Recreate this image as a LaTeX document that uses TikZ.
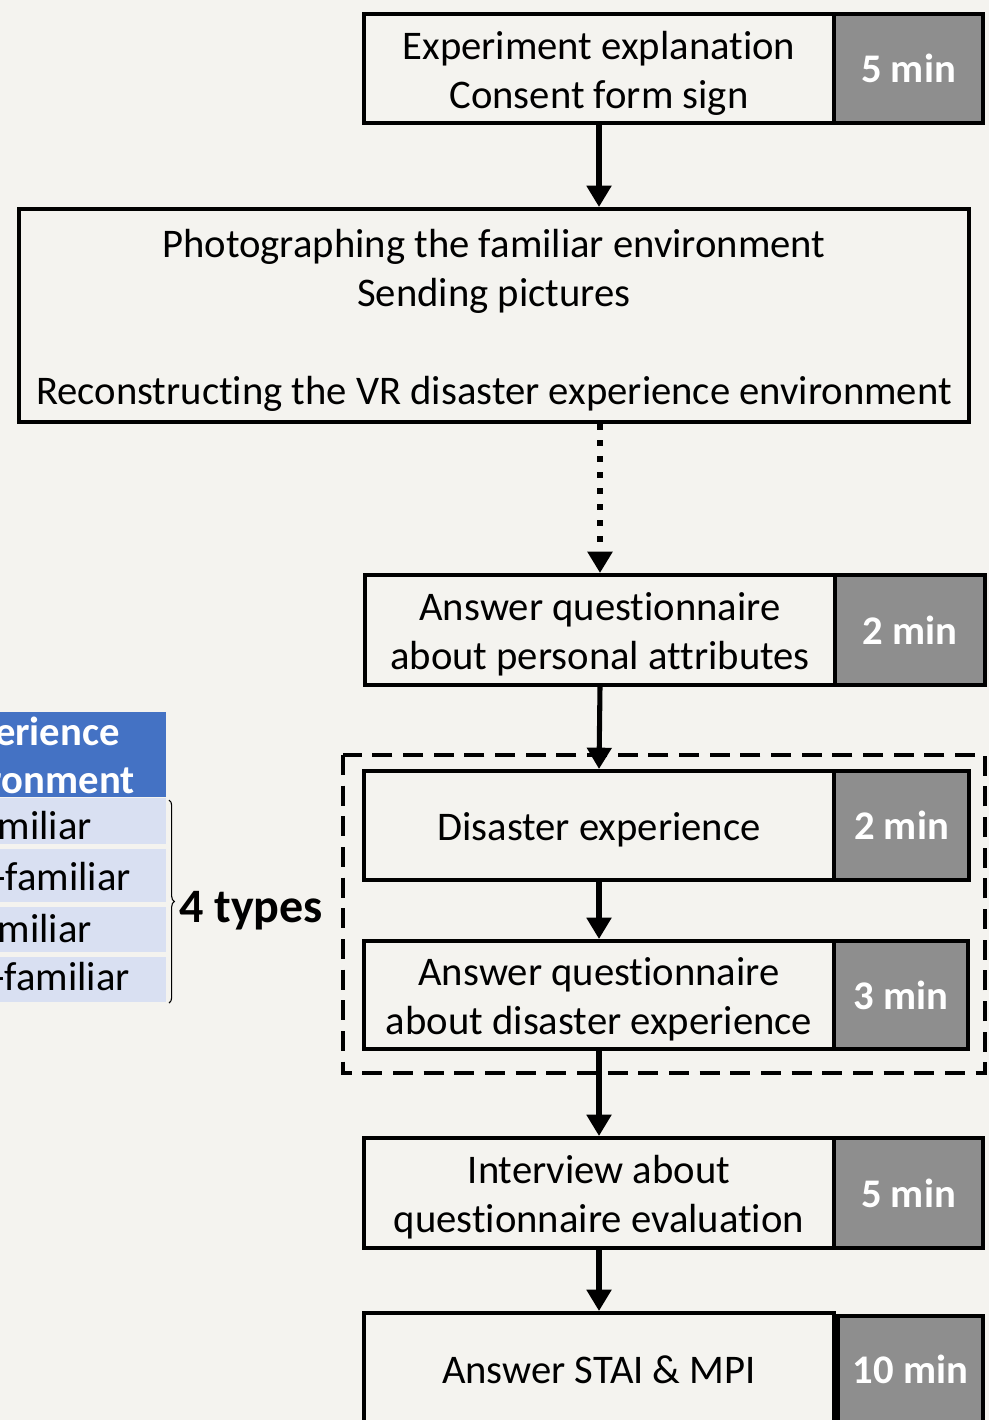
\documentclass[tikz,border=0pt]{standalone}
\usepackage{fontspec}
\setmainfont{Carlito}[Ligatures=NoCommon]
\usetikzlibrary{arrows.meta,decorations.pathreplacing}
\definecolor{bgc}{HTML}{F4F3EF}
\definecolor{tgray}{HTML}{8E8E8E}
\definecolor{hblue}{HTML}{4472C4}
\definecolor{rblue}{HTML}{D9E0F2}
\newcommand\tstr{\rule[-5.5pt]{0pt}{34pt}}
\tikzset{
  mainbox/.style={draw, line width=3pt, fill=bgc, align=center, inner sep=0pt,
    minimum width=352.5pt, font=\fontsize{30.5}{36.6}\selectfont},
  timebox/.style={draw, line width=3pt, fill=tgray, text=white, inner sep=0pt,
    font=\bfseries\fontsize{30.5}{36.6}\selectfont},
  arr/.style={line width=3.8pt, -{Triangle[width=18pt,length=16pt]}},
  dotarr/.style={line width=4.5pt, dash pattern=on 4.5pt off 7.5pt, -{Triangle[width=18pt,length=16pt]}},
  frame/.style={line width=3pt, dash pattern=on 15pt off 8pt},
  tabtxt/.style={anchor=base east, inner sep=0pt, font=\fontsize{30.5}{36.6}\selectfont},
  tabhead/.style={tabtxt, text=white, font=\bfseries\fontsize{30.5}{36.6}\selectfont}
}
\begin{document}
\begin{tikzpicture}[x=0.75pt,y=-0.75pt]
\useasboundingbox (0,0) rectangle (989,1420);
\clip (0,0) rectangle (989,1420);
\fill[bgc] (0,0) rectangle (989,1420);

% left table
\fill[hblue] (-20,712) rectangle (166,797);
\fill[rblue] (-20,798) rectangle (166,844);
\fill[rblue] (-20,849) rectangle (166,902);
\fill[rblue] (-20,907) rectangle (166,952);
\fill[rblue] (-20,957) rectangle (166,1002);
\node[tabhead] (h1) at (120,745) {erience};
\node[tabhead] (h2) at (135,793) {ronment};
\node[tabtxt] (r1) at (92,839) {miliar};
\node[tabtxt] (r2) at (131,890) {-familiar};
\node[tabtxt] (r3) at (92,942) {miliar};
\node[tabtxt] (r4) at (130,990) {-familiar};
\draw[line width=0.8pt, decorate, decoration={brace, amplitude=4pt}]
  (169,800) -- (169,1003);
\node[anchor=west, inner sep=0pt, font=\bfseries\fontsize{36}{40}\selectfont] (types) at (179,911) {4 types};

% dashed frame
\draw[frame] (343,755) rectangle (985,1073);

% boxes
\node[mainbox, minimum height=81.75pt] (m1) at (599,68.5) {\tstr Experiment explanation\\\tstr Consent form sign};
\node[timebox, minimum width=111.75pt, minimum height=81.75pt] (t1) at (908.5,68.5) {5 min};

\node[draw, line width=3pt, fill=bgc, align=center, inner sep=0pt,
  minimum width=712.5pt, minimum height=159.75pt, font=\fontsize{30.5}{36.6}\selectfont] (m2) at (494,315.5)
  {\tstr Photographing the familiar environment\\\tstr Sending pictures\\[36.6pt]\tstr Reconstructing the VR disaster experience environment};

\node[mainbox, minimum height=82.5pt] (m3) at (600,630) {\tstr Answer questionnaire\\\tstr about personal attributes};
\node[timebox, minimum width=112.5pt, minimum height=82.5pt] (t3) at (910,630) {2 min};

\node[mainbox, minimum height=81.75pt] (m4) at (599,825.5) {\tstr Disaster experience};
\node[timebox, minimum width=101.25pt, minimum height=81.75pt] (t4) at (901.5,825.5) {2 min};

\node[mainbox, minimum height=81pt] (m5) at (599,995) {\tstr Answer questionnaire\\\tstr about disaster experience};
\node[timebox, minimum width=100.5pt, minimum height=81pt] (t5) at (901,995) {3 min};

\node[mainbox, minimum height=82.5pt] (m6) at (599,1193) {\tstr Interview about\\\tstr questionnaire evaluation};
\node[timebox, minimum width=111.75pt, minimum height=82.5pt] (t6) at (908.5,1193) {5 min};

\node[mainbox, minimum height=82.5pt] (m7) at (599,1368) {\tstr Answer STAI \& MPI};
\node[timebox, minimum width=108.75pt, minimum height=80pt] (t7) at (910.5,1369.5) {10 min};

% arrows
\draw[arr] (m1.south) -- (m1.south |- m2.north);
\draw[dotarr] (m3.north |- m2.south) -- (m3.north);
\draw[arr] (m3.south) -- (m4.north);
\draw[arr] (m4.south) -- (m5.north);
\draw[arr] (m5.south) -- (m6.north);
\draw[arr] (m6.south) -- (m7.north);
\end{tikzpicture}
\end{document}
